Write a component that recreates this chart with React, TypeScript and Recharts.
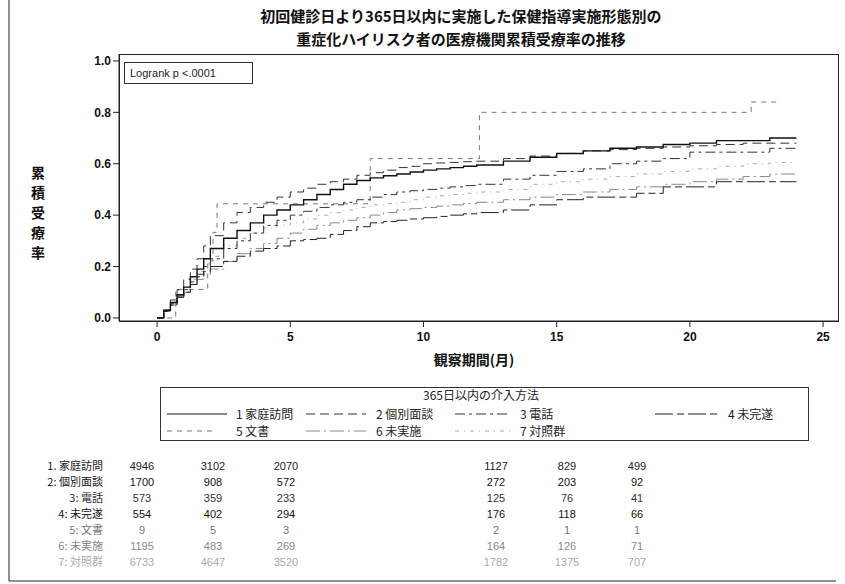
import React from 'react';
import { LineChart, Line, XAxis, YAxis } from 'recharts';

// observation months (shared grid for the step curves)
const months = [0, 0.25, 0.5, 0.75, 1, 1.25, 1.5, 1.75, 2, 2.5, 3, 3.5, 4, 4.5, 5, 5.5, 6, 6.5, 7, 7.5, 8, 8.5, 9, 9.5, 10, 10.5, 11, 11.5, 12, 13, 14, 15, 16, 17, 18, 19, 20, 21, 22, 23, 24];

// cumulative rate per group
const homeVisit = [0, 0.03, 0.06, 0.09, 0.12, 0.16, 0.19, 0.23, 0.27, 0.31, 0.34, 0.37, 0.4, 0.42, 0.44, 0.46, 0.48, 0.5, 0.52, 0.535, 0.545, 0.553, 0.56, 0.568, 0.575, 0.58, 0.585, 0.59, 0.595, 0.61, 0.625, 0.64, 0.65, 0.66, 0.665, 0.675, 0.68, 0.69, 0.69, 0.7, 0.7];
const interview = [0, 0.03, 0.07, 0.11, 0.15, 0.19, 0.23, 0.28, 0.32, 0.37, 0.41, 0.43, 0.45, 0.47, 0.49, 0.505, 0.52, 0.53, 0.54, 0.555, 0.565, 0.575, 0.585, 0.59, 0.6, 0.603, 0.605, 0.608, 0.61, 0.62, 0.63, 0.64, 0.65, 0.655, 0.66, 0.665, 0.67, 0.675, 0.68, 0.68, 0.68];
const phone = [0, 0.025, 0.055, 0.085, 0.11, 0.14, 0.17, 0.2, 0.23, 0.27, 0.3, 0.33, 0.36, 0.38, 0.4, 0.415, 0.43, 0.44, 0.45, 0.46, 0.47, 0.48, 0.49, 0.495, 0.5, 0.505, 0.51, 0.515, 0.52, 0.54, 0.555, 0.57, 0.58, 0.6, 0.61, 0.62, 0.645, 0.645, 0.645, 0.66, 0.66];
const incomplete = [0, 0.025, 0.05, 0.08, 0.1, 0.13, 0.16, 0.18, 0.2, 0.22, 0.24, 0.26, 0.27, 0.28, 0.3, 0.305, 0.31, 0.325, 0.34, 0.355, 0.37, 0.375, 0.38, 0.385, 0.39, 0.395, 0.4, 0.405, 0.41, 0.42, 0.44, 0.46, 0.47, 0.47, 0.485, 0.51, 0.51, 0.53, 0.53, 0.53, 0.53];
const notDone = [0, 0.025, 0.05, 0.08, 0.1, 0.13, 0.15, 0.17, 0.19, 0.22, 0.25, 0.27, 0.29, 0.31, 0.33, 0.345, 0.36, 0.37, 0.38, 0.39, 0.4, 0.41, 0.42, 0.425, 0.43, 0.435, 0.44, 0.445, 0.45, 0.46, 0.47, 0.48, 0.49, 0.5, 0.51, 0.52, 0.53, 0.54, 0.55, 0.56, 0.56];
const control = [0, 0.03, 0.06, 0.09, 0.12, 0.15, 0.18, 0.21, 0.24, 0.28, 0.31, 0.33, 0.35, 0.36, 0.37, 0.385, 0.4, 0.41, 0.42, 0.43, 0.44, 0.445, 0.45, 0.46, 0.47, 0.475, 0.48, 0.485, 0.49, 0.5, 0.52, 0.53, 0.54, 0.55, 0.56, 0.57, 0.58, 0.59, 0.6, 0.605, 0.605];

// 文書 group is tiny, so it has its own big steps
const letterMonths = [0, 0.7, 1.9, 2.1, 2.25, 8, 12.1, 22.3, 23.3];
const letter = [0, 0.111, 0.222, 0.333, 0.444, 0.62, 0.8, 0.84, 0.84];

const groupNames = ['家庭訪問', '個別面談', '電話', '未完遂', '文書', '未実施', '対照群'];
const tableLabels = ['1. 家庭訪問', '2: 個別面談', '3: 電話', '4: 未完遂', '5: 文書', '6: 未実施', '7: 対照群'];
const atRisk = [
  [4946, 3102, 2070, 1127, 829, 499],
  [1700, 908, 572, 272, 203, 92],
  [573, 359, 233, 125, 76, 41],
  [554, 402, 294, 176, 118, 66],
  [9, 5, 3, 2, 1, 1],
  [1195, 483, 269, 164, 126, 71],
  [6733, 4647, 3520, 1782, 1375, 707],
];
const xTicks = [0, 5, 10, 15, 20, 25];
const yTicks = [0, 0.2, 0.4, 0.6, 0.8, 1.0];

const toPoints = (ts: number[], vs: number[]) => ts.map((t, i) => ({ t, v: vs[i] }));

const STYLES = [
  { stroke: '#111', dash: undefined, width: 1.4 },
  { stroke: '#333', dash: '9 5', width: 1 },
  { stroke: '#333', dash: '10 4 3 4', width: 1 },
  { stroke: '#222', dash: '18 4 7 4', width: 1 },
  { stroke: '#777', dash: '5 5', width: 1 },
  { stroke: '#888', dash: '14 4 2 4', width: 1 },
  { stroke: '#aaa', dash: '4 5 1 5', width: 1 },
];

const series = [
  toPoints(months, homeVisit),
  toPoints(months, interview),
  toPoints(months, phone),
  toPoints(months, incomplete),
  toPoints(letterMonths, letter),
  toPoints(months, notDone),
  toPoints(months, control),
];

const TABLE_X = [142, 213, 286, 496, 567, 637];
const TABLE_Y = [466, 482, 498, 514, 530, 546, 562];
const TABLE_COLOR = ['#222', '#111', '#333', '#111', '#777', '#888', '#aaa'];

const LEGEND_ITEMS = [
  { x1: 167, x2: 227, tx: 236, y: 414 },
  { x1: 306, x2: 366, tx: 376, y: 414 },
  { x1: 455, x2: 510, tx: 520, y: 414 },
  { x1: 655, x2: 718, tx: 728, y: 414 },
  { x1: 167, x2: 215, tx: 236, y: 431 },
  { x1: 306, x2: 366, tx: 376, y: 431 },
  { x1: 455, x2: 510, tx: 520, y: 431 },
];

const JP = '"Noto Sans CJK JP", sans-serif';
const tickStyle = { fontSize: 12, fontWeight: 'bold', fill: '#111', fontFamily: '"Liberation Sans", Arial' };

export default function App() {
  const drawOrder = [6, 5, 4, 3, 2, 1, 0];
  return (
    <div style={{ position: 'absolute', left: 0, top: 0, width: 845, height: 584, background: '#fff' }}>
      <LineChart width={845} height={584} margin={{ top: 54, right: 7, bottom: 233, left: 0 }}>
        <XAxis
          dataKey="t"
          type="number"
          domain={[-1.43, 25.56]}
          ticks={xTicks}
          allowDataOverflow
          height={30}
          tick={{ ...tickStyle, dy: 3 }}
          tickSize={6}
          stroke="#222"
        />
        <YAxis
          type="number"
          domain={[-0.012, 1.027]}
          ticks={yTicks}
          allowDataOverflow
          width={119}
          tick={tickStyle}
          tickSize={6}
          tickFormatter={(v: number) => v.toFixed(1)}
          stroke="#222"
        />
        {drawOrder.map((i) => (
          <Line
            key={i}
            data={series[i]}
            dataKey="v"
            name={groupNames[i]}
            type="stepAfter"
            stroke={STYLES[i].stroke}
            strokeWidth={STYLES[i].width}
            strokeDasharray={STYLES[i].dash}
            dot={false}
            isAnimationActive={false}
          />
        ))}
      </LineChart>

      <svg width={845} height={584} style={{ position: 'absolute', left: 0, top: 0, pointerEvents: 'none' }}>
        {/* outer frame and plot box */}
        <line x1={9} y1={0} x2={9} y2={581} stroke="#222" />
        <line x1={9} y1={581} x2={836} y2={581} stroke="#222" />
        <rect x={119.5} y={54.5} width={719} height={267} fill="none" stroke="#222" />

        <text x={461} y={22} textAnchor="middle" fontSize={15} fontWeight="bold" fontFamily={JP} fill="#111">
          初回健診日より365日以内に実施した保健指導実施形態別の
        </text>
        <text x={461} y={45} textAnchor="middle" fontSize={15} fontWeight="bold" fontFamily={JP} fill="#111">
          重症化ハイリスク者の医療機関累積受療率の推移
        </text>

        {['累', '積', '受', '療', '率'].map((c, i) => (
          <text key={c} x={38} y={178 + i * 20} textAnchor="middle" fontSize={14} fontWeight="bold" fontFamily={JP} fill="#111">
            {c}
          </text>
        ))}
        <text x={474} y={365} textAnchor="middle" fontSize={14} fontWeight="bold" fontFamily={JP} fill="#111">
          観察期間(月)
        </text>

        <rect x={124.5} y={62.5} width={128} height={21} fill="#fff" stroke="#333" />
        <text x={130} y={77} fontSize={11} fontFamily='"Liberation Sans", Arial' fill="#222">
          Logrank p &lt;.0001
        </text>

        {/* legend */}
        <rect x={160.5} y={387.5} width={648} height={53} fill="none" stroke="#333" />
        <text x={481} y={400} textAnchor="middle" fontSize={12} fontFamily={JP} fill="#222">
          365日以内の介入方法
        </text>
        {LEGEND_ITEMS.map((it, i) => (
          <g key={i}>
            <line x1={it.x1} y1={it.y} x2={it.x2} y2={it.y} stroke={STYLES[i].stroke} strokeWidth={1} strokeDasharray={STYLES[i].dash} />
            <text x={it.tx} y={it.y + 4.5} fontSize={12} fontFamily={JP} fill="#222">
              {`${i + 1} ${groupNames[i]}`}
            </text>
          </g>
        ))}

        {/* number at risk */}
        {tableLabels.map((lab, r) => (
          <g key={lab}>
            <text x={103} y={TABLE_Y[r] + 4} textAnchor="end" fontSize={11} fontFamily={JP} fill={TABLE_COLOR[r]}>
              {lab}
            </text>
            {atRisk[r].map((n, c) => (
              <text key={c} x={TABLE_X[c]} y={TABLE_Y[r] + 4} textAnchor="middle" fontSize={11} fontFamily='"Liberation Sans", Arial' fill={TABLE_COLOR[r]}>
                {n}
              </text>
            ))}
          </g>
        ))}
      </svg>
    </div>
  );
}
